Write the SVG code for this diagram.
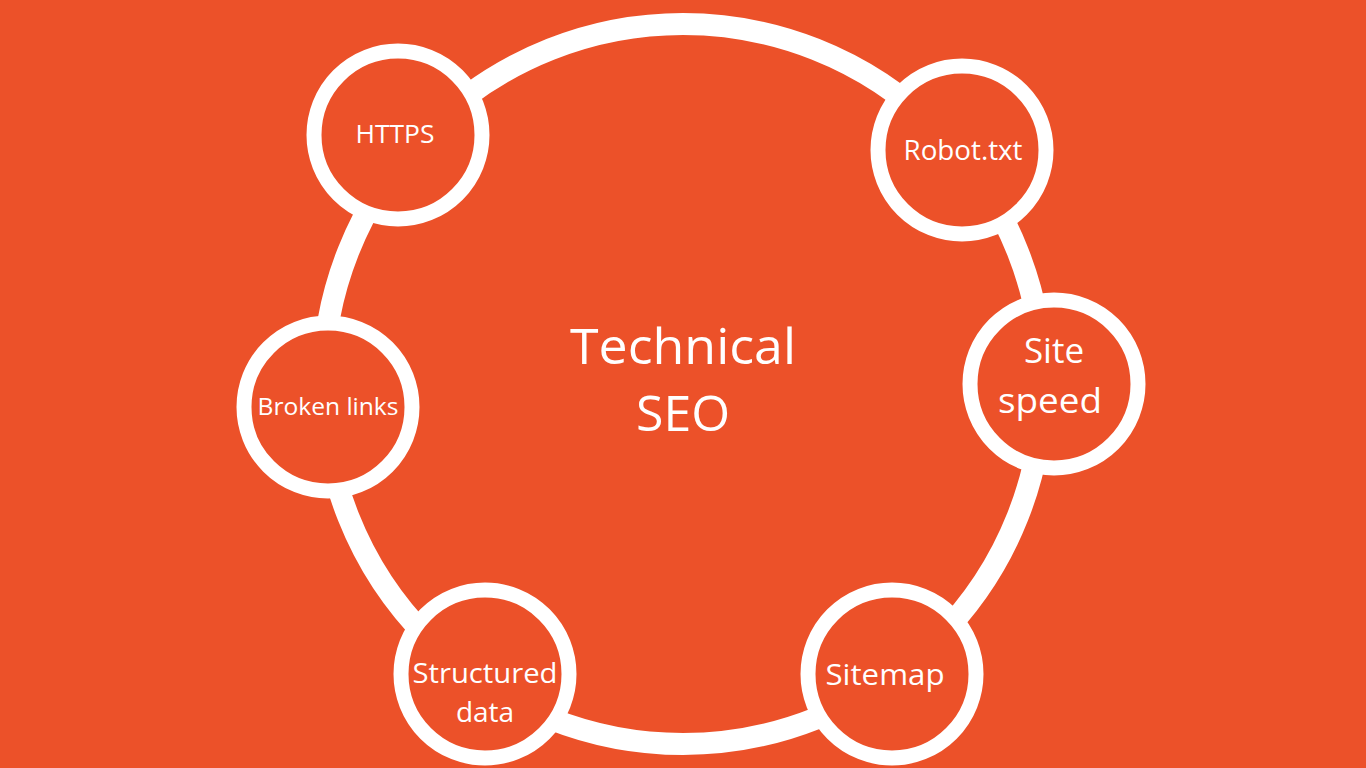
<svg xmlns="http://www.w3.org/2000/svg" width="1366" height="768" viewBox="0 0 1366 768">
<style>
.bg{fill:#EC5129}
.ring{fill:none;stroke:#FFFFFF;stroke-width:22}
.node{fill:#EC5129;stroke:#FFFFFF;stroke-width:15}
text{font-family:"Open Sans","Noto Sans","Liberation Sans",sans-serif;fill:#FFFFFF;text-anchor:middle}
</style>
<rect class="bg" x="0" y="0" width="1366" height="768"/>
<g id="connectors">
<circle class="ring" cx="683" cy="384" r="360"/>
</g>
<g id="center">
<text x="683" y="364" font-size="50" textLength="226" lengthAdjust="spacingAndGlyphs">Technical</text>
<text x="683" y="431" font-size="50" textLength="94" lengthAdjust="spacingAndGlyphs">SEO</text>
</g>
<g id="node-https">
<circle class="node" cx="398" cy="135" r="84"/>
<text x="395" y="143" font-size="25" textLength="79" lengthAdjust="spacingAndGlyphs">HTTPS</text>
</g>
<g id="node-robot">
<circle class="node" cx="962" cy="150" r="84"/>
<text x="963" y="160" font-size="28" textLength="119" lengthAdjust="spacingAndGlyphs">Robot.txt</text>
</g>
<g id="node-sitespeed">
<circle class="node" cx="1054" cy="384" r="84"/>
<text x="1054" y="363" font-size="35">Site</text>
<text x="1050" y="413" font-size="35" textLength="104" lengthAdjust="spacingAndGlyphs">speed</text>
</g>
<g id="node-broken">
<circle class="node" cx="328" cy="407" r="84"/>
<text x="328" y="415" font-size="24" textLength="141" lengthAdjust="spacingAndGlyphs">Broken links</text>
</g>
<g id="node-structured">
<circle class="node" cx="485" cy="674" r="84"/>
<text x="485" y="683" font-size="28" textLength="145" lengthAdjust="spacingAndGlyphs">Structured</text>
<text x="485" y="722" font-size="28">data</text>
</g>
<g id="node-sitemap">
<circle class="node" cx="892" cy="674" r="84"/>
<text x="885" y="685" font-size="30" textLength="119" lengthAdjust="spacingAndGlyphs">Sitemap</text>
</g>
</svg>
